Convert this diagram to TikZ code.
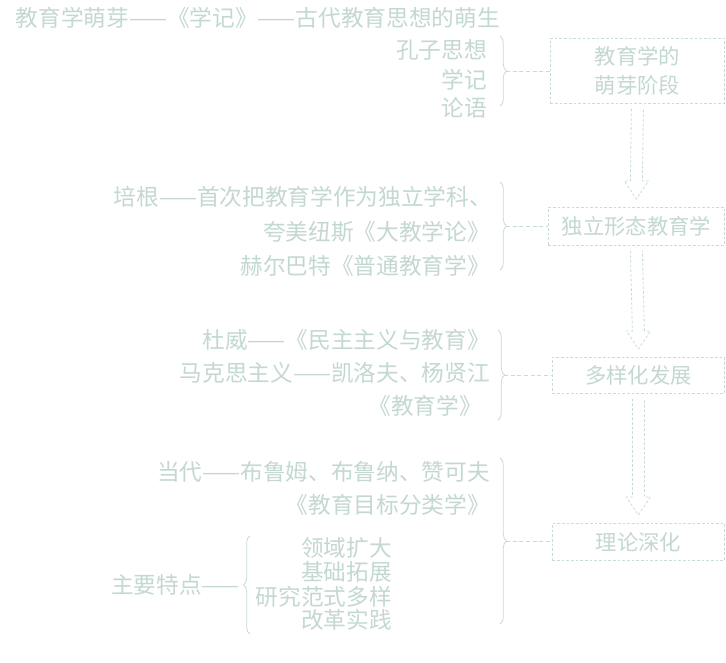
\documentclass[tikz,border=0pt]{standalone}
\usepackage{fontspec}
\newfontfamily\cjk{Noto Sans CJK SC}
\usetikzlibrary{calc,decorations.pathreplacing}
\definecolor{faint}{RGB}{196,216,211}
\definecolor{faintline}{RGB}{200,220,215}
\begin{document}
\begin{tikzpicture}[x=0.75pt,y=-0.75pt,
  txt/.style={font=\cjk\fontsize{17}{20}\selectfont, text=faint, inner sep=0pt},
  boxtxt/.style={font=\cjk\fontsize{16}{22}\selectfont, text=faint, align=center},
  stagebox/.style={draw=faintline, dash pattern=on 2pt off 1.5pt, line width=0.6pt, inner sep=0pt, anchor=north west},
  brc/.style={draw=faintline, line width=0.6pt, decorate, decoration={brace, amplitude=5pt}},
  conn/.style={draw=faintline, dash pattern=on 3pt off 2pt, line width=0.6pt},
  arrowline/.style={draw=faintline, dash pattern=on 2pt off 1.5pt, line width=0.6pt, line join=miter}]
\useasboundingbox (0,0) rectangle (726,663);
\fill[white] (0,0) rectangle (726,663);

% ---- stage boxes
\node[stagebox, minimum width=130.5pt, minimum height=48.75pt] (box1) at (550,38) {};
\node[boxtxt] (box1t) at (box1.center) {教育学的\\萌芽阶段};
\node[stagebox, minimum width=132pt, minimum height=28.5pt] (box2) at (548,207) {};
\node[boxtxt] (box2t) at (box2.center) {独立形态教育学};
\node[stagebox, minimum width=129pt, minimum height=27pt] (box3) at (552,357) {};
\node[boxtxt] (box3t) at (box3.center) {多样化发展};
\node[stagebox, minimum width=129pt, minimum height=27.75pt] (box4) at (552,523) {};
\node[boxtxt] (box4t) at (box4.center) {理论深化};

% ---- hollow arrows between boxes
\foreach \a/\b in {box1/box2, box2/box3, box3/box4}{
  \draw[arrowline] ($(\a.south)+(-6,5)$) -- ($(\b.north)+(-6,-26)$) -- ($(\b.north)+(-12,-26)$)
    -- ($(\b.north)+(0,-8)$) -- ($(\b.north)+(12,-26)$) -- ($(\b.north)+(6,-26)$) -- ($(\a.south)+(6,5)$);
}

% ---- group 1
\node[txt, anchor=east] (g1a) at (500,18) {教育学萌芽——《学记》——古代教育思想的萌生};
\node[txt, anchor=east] (g1b) at (487,50) {孔子思想};
\node[txt, anchor=east] (g1c) at (487,80) {学记};
\node[txt, anchor=east] (g1d) at (487,108) {论语};
\coordinate (g1top) at (500,36);
\coordinate (g1bot) at (500,106);
\draw[brc] (g1top) -- (g1bot);
\coordinate (g1tip) at (506,71);
\draw[conn] (g1tip) -- (g1tip -| box1.west);

% ---- group 2
\node[txt, anchor=east] (g2a) at (492,197) {培根——首次把教育学作为独立学科、};
\node[txt, anchor=east] (g2b) at (490,232) {夸美纽斯《大教学论》};
\node[txt, anchor=east] (g2c) at (490,266) {赫尔巴特《普通教育学》};
\coordinate (g2top) at (500,182);
\coordinate (g2bot) at (500,270);
\draw[brc] (g2top) -- (g2bot);
\coordinate (g2tip) at (506,226);
\draw[conn] (g2tip) -- (g2tip -| box2.west);

% ---- group 3
\node[txt, anchor=east] (g3a) at (490,340) {杜威——《民主主义与教育》};
\node[txt, anchor=east] (g3b) at (490,373) {马克思主义——凯洛夫、杨贤江};
\node[txt, anchor=east] (g3c) at (482,406) {《教育学》};
\coordinate (g3top) at (498,330);
\coordinate (g3bot) at (498,420);
\draw[brc] (g3top) -- (g3bot);
\coordinate (g3tip) at (504,375);
\draw[conn] (g3tip) -- (g3tip -| box3.west);

% ---- group 4
\node[txt, anchor=east] (g4a) at (490,472) {当代——布鲁姆、布鲁纳、赞可夫};
\node[txt, anchor=east] (g4b) at (490,505) {《教育目标分类学》};
\node[txt, anchor=east] (s1) at (392,548) {领域扩大};
\node[txt, anchor=east] (s2) at (392,572) {基础拓展};
\node[txt, anchor=east] (s3) at (392,597) {研究范式多样};
\node[txt, anchor=east] (s4) at (392,620) {改革实践};
\coordinate (sbot) at (250,634);
\coordinate (stop) at (250,536);
\draw[brc] (sbot) -- (stop);
\node[txt, anchor=east] (g4lab) at (240,585) {主要特点——};
\coordinate (g4top) at (500,458);
\coordinate (g4bot) at (500,624);
\draw[brc] (g4top) -- (g4bot);
\coordinate (g4tip) at (506,541);
\draw[conn] (g4tip) -- (g4tip -| box4.west);
\end{tikzpicture}
\end{document}
